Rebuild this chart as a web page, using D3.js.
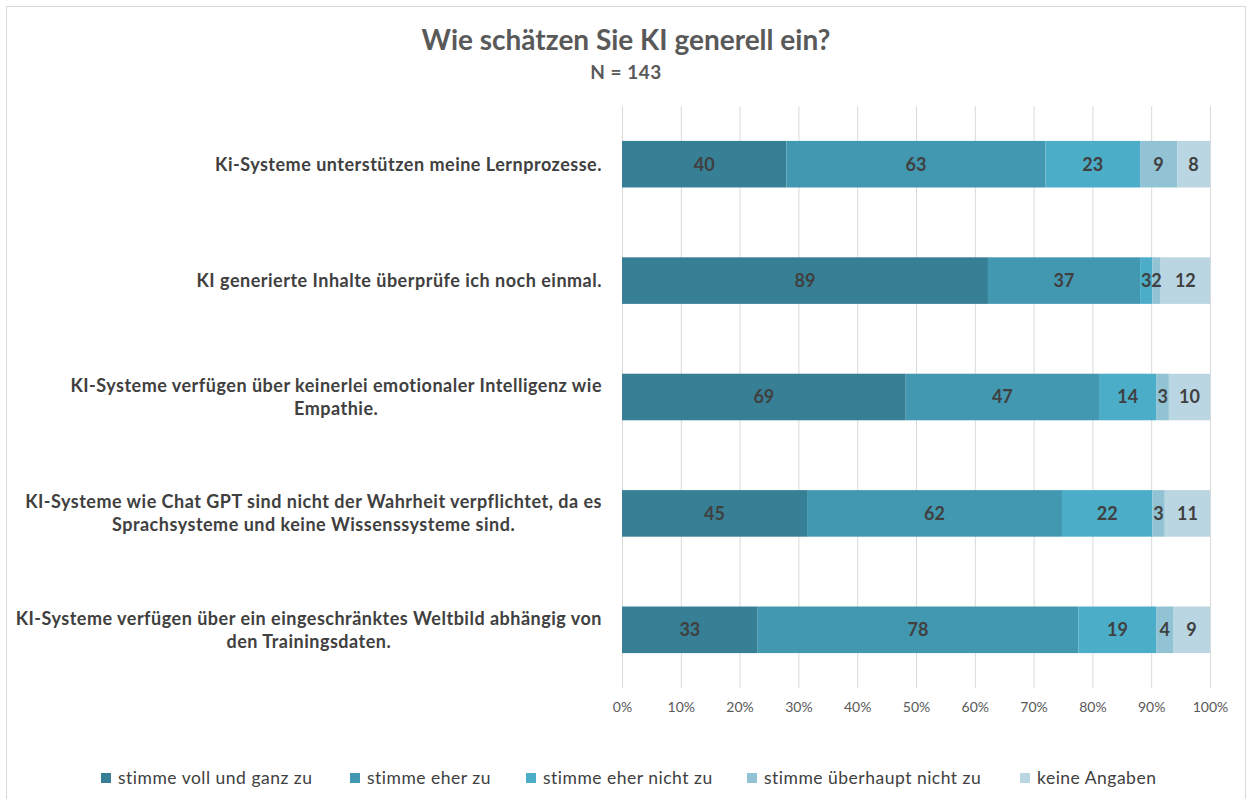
<!DOCTYPE html>
<html>
<head>
    <script src="https://d3js.org/d3.v7.min.js"></script>
    <style>
        body {
            margin: 0;
            background: #fff;
            font-family: 'Lato', sans-serif;
        }
    </style>
</head>
<body>
<div id="chart"></div>
<script>
// Data
const categories = [
    ["Ki-Systeme unterstützen meine Lernprozesse."],
    ["KI generierte Inhalte überprüfe ich noch einmal."],
    ["KI-Systeme verfügen über keinerlei emotionaler Intelligenz wie", "Empathie."],
    ["KI-Systeme wie Chat GPT sind nicht der Wahrheit verpflichtet, da es", "Sprachsysteme und keine Wissenssysteme sind."],
    ["KI-Systeme verfügen über ein eingeschränktes Weltbild abhängig von", "den Trainingsdaten."]
];
const seriesNames = ["stimme voll und ganz zu", "stimme eher zu", "stimme eher nicht zu", "stimme überhaupt nicht zu", "keine Angaben"];
const voll = [40, 89, 69, 45, 33];
const eher = [63, 37, 47, 62, 78];
const eherNicht = [23, 3, 14, 22, 19];
const ueberhauptNicht = [9, 2, 3, 3, 4];
const keine = [8, 12, 10, 11, 9];
const xTicks = [0, 0.1, 0.2, 0.3, 0.4, 0.5, 0.6, 0.7, 0.8, 0.9, 1];
const colors = ["#377f94", "#4398b1", "#4badc7", "#92c3d5", "#bad6e2"];

const width = 1251, height = 799;
const plot = { left: 622, right: 1210, top: 106, bottom: 688 };

const svg = d3.select("#chart").append("svg")
    .attr("width", width).attr("height", height);

// Chart frame
svg.append("rect")
    .attr("x", 6.5).attr("y", 6.5)
    .attr("width", 1239).attr("height", 800)
    .attr("fill", "#fff").attr("stroke", "#d9d9d9");

// Title
svg.append("text")
    .attr("x", 626).attr("y", 50)
    .attr("text-anchor", "middle")
    .attr("fill", "#595959")
    .style("font-size", "28px").style("font-weight", "bold")
    .text("Wie schätzen Sie KI generell ein?");
svg.append("text")
    .attr("x", 626).attr("y", 79)
    .attr("text-anchor", "middle")
    .attr("fill", "#595959")
    .style("font-size", "19px").style("font-weight", "bold")
    .style("letter-spacing", "0.5px")
    .text("N = 143");

// Build rows
const series = [voll, eher, eherNicht, ueberhauptNicht, keine];
const rows = categories.map((c, i) => {
    const vals = series.map(s => s[i]);
    const total = d3.sum(vals);
    let acc = 0;
    const segs = vals.map((v, k) => {
        const s = { k, v, x0: acc / total, x1: (acc + v) / total };
        acc += v;
        return s;
    });
    return { i, label: c, segs };
});

const x = d3.scaleLinear().domain([0, 1]).range([plot.left, plot.right]);
const y = d3.scaleBand().domain(d3.range(categories.length))
    .range([plot.top, plot.bottom]).paddingInner(0.6).paddingOuter(0.3);

// Grid + ticks
const xAxis = d3.axisBottom(x)
    .tickValues(xTicks)
    .tickFormat(d3.format(".0%"))
    .tickSize(-(plot.bottom - plot.top))
    .tickPadding(14);

const gx = svg.append("g")
    .attr("transform", `translate(0,${plot.bottom})`)
    .call(xAxis);
gx.select(".domain").remove();
gx.selectAll(".tick line").attr("stroke", "#d9d9d9");
gx.selectAll(".tick text")
    .attr("fill", "#595959")
    .style("font-size", "14px")
    .style("font-family", "Lato, sans-serif");

// Bars
const rowG = svg.append("g").selectAll("g")
    .data(rows).join("g");

rowG.selectAll("rect")
    .data(d => d.segs.map(s => ({ ...s, row: d.i })))
    .join("rect")
    .attr("x", d => x(d.x0))
    .attr("width", d => x(d.x1) - x(d.x0))
    .attr("y", d => y(d.row))
    .attr("height", y.bandwidth())
    .attr("fill", d => colors[d.k]);

rowG.selectAll("text.val")
    .data(d => d.segs.map(s => ({ ...s, row: d.i })))
    .join("text")
    .attr("class", "val")
    .attr("x", d => (x(d.x0) + x(d.x1)) / 2)
    .attr("y", d => y(d.row) + y.bandwidth() / 2)
    .attr("dy", "0.36em")
    .attr("text-anchor", "middle")
    .attr("fill", "#404040")
    .style("font-size", "18px").style("font-weight", "bold")
    .text(d => d.v);

// Category labels (block right-aligned, lines centered)
const labelRight = 602;
const lineH = 23;
rows.forEach(r => {
    const cy = y(r.i) + y.bandwidth() / 2;
    const g = svg.append("g");
    const texts = r.label.map((line, j) => g.append("text")
        .attr("y", cy + (j - (r.label.length - 1) / 2) * lineH)
        .attr("dy", "0.36em")
        .attr("text-anchor", "middle")
        .attr("fill", "#404040")
        .style("font-size", "18px").style("font-weight", "bold")
        .style("letter-spacing", "0.5px")
        .text(line));
    const maxW = d3.max(texts, t => t.node().getComputedTextLength());
    texts.forEach(t => t.attr("x", labelRight - maxW / 2));
});

// Legend
const legendX = [101, 350, 526, 747, 1020];
const legend = svg.append("g").selectAll("g")
    .data(seriesNames).join("g")
    .attr("transform", (d, i) => `translate(${legendX[i]},778)`);
legend.append("rect")
    .attr("x", 0).attr("y", -5)
    .attr("width", 10).attr("height", 10)
    .attr("fill", (d, i) => colors[i]);
legend.append("text")
    .attr("x", 17).attr("dy", "0.36em")
    .attr("fill", "#404040")
    .style("font-size", "17.5px")
    .style("letter-spacing", "0.5px")
    .text(d => d);
</script>
</body>
</html>
